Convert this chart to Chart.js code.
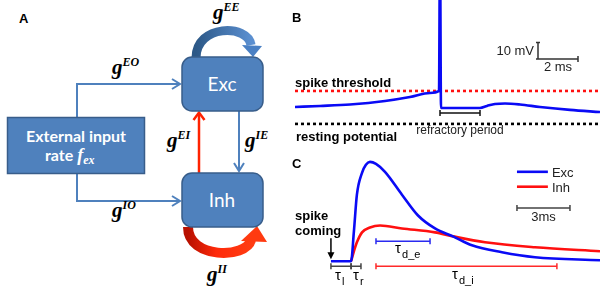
<!DOCTYPE html>
<html>
<head>
<meta charset="utf-8">
<script src="https://cdn.jsdelivr.net/npm/chart.js@4"></script>
<style>
  body { margin: 0; width: 600px; height: 291px; background: #fff; position: relative; overflow: hidden; }
  #diagram { position: absolute; left: 0; top: 0; }
  #chartB { position: absolute; left: 285px; top: 0; }
  #chartC { position: absolute; left: 285px; top: 145px; }
  .box { fill: #4f81bd; stroke: #385d8a; stroke-width: 1.5; }
  .lbl { fill: #fff; font-family: Lato, "Open Sans", sans-serif; }
  .g { font-family: "Liberation Serif", serif; font-weight: bold; font-style: italic; font-size: 21px; fill: #000; }
  .sup { font-size: 12px; }
</style>
</head>
<body>

<!-- panel A: network diagram -->
<svg id="diagram" width="290" height="291" viewBox="0 0 290 291">
  <defs>
    <linearGradient id="gradEE" x1="0" x2="1" y1="0" y2="0">
      <stop offset="0" stop-color="#2c5887"/>
      <stop offset="1" stop-color="#5b8fd0"/>
    </linearGradient>
    <linearGradient id="gradII" x1="0" x2="1" y1="0" y2="0">
      <stop offset="0" stop-color="#b81000"/>
      <stop offset="0.45" stop-color="#ff2a0a"/>
      <stop offset="1" stop-color="#ff3c12"/>
    </linearGradient>
  </defs>
  <text x="19" y="23" font-family="Liberation Sans, Arial, sans-serif" font-weight="bold" font-size="13">A</text>

  <!-- external input to Exc / Inh -->
  <polyline points="77,117 77,84 180,84" fill="none" stroke="#4f81bd" stroke-width="2"/>
  <polyline points="172,79 180,84 172,89" fill="none" stroke="#4f81bd" stroke-width="2"/>
  <polyline points="77,173 77,201 180,201" fill="none" stroke="#4f81bd" stroke-width="2"/>
  <polyline points="172,196 180,201 172,206" fill="none" stroke="#4f81bd" stroke-width="2"/>

  <!-- Inh -> Exc, Exc -> Inh -->
  <line x1="199" y1="173" x2="199" y2="113" stroke="#ff2200" stroke-width="2.5"/>
  <polyline points="193.5,120 199,112.5 204.5,120" fill="none" stroke="#ff2200" stroke-width="2.5"/>
  <line x1="239" y1="111" x2="239" y2="171" stroke="#4f81bd" stroke-width="2"/>
  <polyline points="234,163 239,171 244,163" fill="none" stroke="#4f81bd" stroke-width="2"/>

  <!-- self loops -->
  <path d="M196,58 C196,24 248,24 251,45" fill="none" stroke="url(#gradEE)" stroke-width="9"/>
  <polygon points="242,45 262,46 253,57" fill="#4a80c4"/>
  <path d="M188,227 C188,259 246,259 251,240" fill="none" stroke="url(#gradII)" stroke-width="10"/>
  <polygon points="241,241 267,242 257,226" fill="#ff3a10"/>

  <rect class="box" x="7.5" y="117.5" width="137" height="56"/>
  <rect class="box" x="182" y="57" width="81" height="54" rx="10"/>
  <rect class="box" x="182" y="173" width="81" height="54" rx="10"/>

  <text class="lbl" x="76" y="142" text-anchor="middle" font-weight="bold" font-size="16">External input</text>
  <text class="lbl" x="45" y="161" font-weight="bold" font-size="16">rate <tspan font-family="Liberation Serif, serif" font-style="italic" font-size="18">f</tspan><tspan font-family="Liberation Serif, serif" font-style="italic" font-size="12" dy="3">ex</tspan></text>
  <text class="lbl" x="222" y="91" text-anchor="middle" font-size="19">Exc</text>
  <text class="lbl" x="222" y="207" text-anchor="middle" font-size="19">Inh</text>

  <text class="g" x="112" y="74">g<tspan class="sup" dy="-8">EO</tspan></text>
  <text class="g" x="112" y="217">g<tspan class="sup" dy="-8">IO</tspan></text>
  <text class="g" x="167" y="147">g<tspan class="sup" dy="-8">EI</tspan></text>
  <text class="g" x="245" y="147">g<tspan class="sup" dy="-8">IE</tspan></text>
  <text class="g" x="213" y="19">g<tspan class="sup" dy="-8">EE</tspan></text>
  <text class="g" x="207" y="281">g<tspan class="sup" dy="-8">II</tspan></text>
</svg>

<canvas id="chartB" width="315" height="145"></canvas>
<canvas id="chartC" width="315" height="146"></canvas>

<script>
// Panel B: membrane potential around a spike (time in ms, potential in mV)
const bTime = [0.5, 1.75, 3.25, 5, 6.25, 7.25, 7.7, 7.75, 7.8, 9.75, 10.1, 10.5, 11, 11.75, 12.75, 14.25, 15.75];
const bVolt = [-59.9, -59.3, -58.4, -56.3, -53.9, -51.4, -50.2, 40, -60.5, -60.5, -59.3, -58.1, -57.8, -58.4, -59.9, -61.7, -63];
const thresholdMV = -50.2;
const restMV = -70.2;
const refractory = [7.75, 9.75];   // ms

// Panel C: synaptic conductance after an incoming spike (time in ms, normalised)
const excTime = [2.6, 3.74, 3.9, 4.07, 4.36, 4.58, 4.81, 5.15, 5.66, 6.62, 7.53, 8.49, 9.51, 10.58, 12.28, 14.15, 17.83];
const excVal  = [0, 0, 0.30, 0.67, 0.89, 0.97, 1.0, 0.98, 0.90, 0.67, 0.46, 0.33, 0.25, 0.16, 0.09, 0.04, 0.01];
const inhTime = [3.74, 3.9, 4.07, 4.36, 4.81, 5.38, 6.62, 8.49, 9.51, 11.32, 14.15, 17.83];
const inhVal  = [0, 0.10, 0.19, 0.29, 0.34, 0.36, 0.33, 0.29, 0.25, 0.19, 0.14, 0.10];
const tauL  = [2.6, 3.74];
const tauR  = [3.74, 4.3];
const tauDE = [5.15, 8.21];
const tauDI = [5.15, 15.39];

const SANS = '"Liberation Sans", Arial, sans-serif';

function pts(xs, ys) {
  return xs.map((x, i) => ({x: x, y: ys[i]}));
}

// horizontal bar with end ticks, in pixels
function bar(ctx, x0, x1, y, color, ticks) {
  ctx.save();
  ctx.strokeStyle = color;
  ctx.lineWidth = 1.5;
  ctx.beginPath();
  ctx.moveTo(x0, y); ctx.lineTo(x1, y);
  if (ticks !== false) {
    ctx.moveTo(x0, y - 3); ctx.lineTo(x0, y + 3);
    ctx.moveTo(x1, y - 3); ctx.lineTo(x1, y + 3);
  }
  ctx.stroke();
  ctx.restore();
}

function text(ctx, str, x, y, font, align, color) {
  ctx.save();
  ctx.font = font;
  ctx.textAlign = align || 'left';
  ctx.fillStyle = color || '#000';
  ctx.fillText(str, x, y);
  ctx.restore();
}

// tau with a subscript
function tau(ctx, sub, x, y) {
  text(ctx, 'τ', x, y, '15px ' + SANS);
  text(ctx, sub, x + 7, y + 5, '11px ' + SANS);
}

function baseOptions(xMax, yMin, yMax) {
  return {
    responsive: false,
    animation: false,
    layout: {padding: 0},
    plugins: {legend: {display: false}, tooltip: {enabled: false}},
    elements: {point: {radius: 0}},
    scales: {
      x: {type: 'linear', min: 0, max: xMax, display: false},
      y: {min: yMin, max: yMax, display: false}
    }
  };
}

const annotB = {
  id: 'annotB',
  afterDatasetsDraw(chart) {
    const ctx = chart.ctx;
    const sx = chart.scales.x, sy = chart.scales.y;
    const X = v => sx.getPixelForValue(v), Y = v => sy.getPixelForValue(v);

    text(ctx, 'B', X(0.35), Y(-8.4), 'bold 13px ' + SANS);
    text(ctx, 'spike threshold', X(0.5), Y(-47.6), 'bold 13px ' + SANS);
    text(ctx, 'resting potential', X(0.55), Y(-80.4), 'bold 13px ' + SANS);
    text(ctx, 'refractory period', X(8.75), Y(-76.2), '12px ' + SANS, 'center', '#222');

    bar(ctx, X(refractory[0]), X(refractory[1]), Y(-63.6), '#111');

    // scale bar 10 mV / 2 ms
    const bx = X(12.65), by = Y(-30.8);
    ctx.save();
    ctx.strokeStyle = '#333';
    ctx.lineWidth = 1.5;
    ctx.beginPath();
    ctx.moveTo(bx, Y(-20.8)); ctx.lineTo(bx, by); ctx.lineTo(X(14.65), by);
    ctx.moveTo(bx - 2, Y(-20.8)); ctx.lineTo(bx + 2, Y(-20.8));
    ctx.moveTo(bx - 2, by); ctx.lineTo(bx + 2, by);
    ctx.moveTo(X(14.65), by - 3); ctx.lineTo(X(14.65), by + 3);
    ctx.stroke();
    ctx.restore();
    text(ctx, '10 mV', X(12.45), Y(-28.4), '13px ' + SANS, 'right', '#222');
    text(ctx, '2 ms', X(13.65), Y(-38.1), '13px ' + SANS, 'center', '#222');
  }
};

new Chart(document.getElementById('chartB'), {
  type: 'line',
  data: {
    datasets: [
      {data: pts(bTime, bVolt), borderColor: '#0a0af5', borderWidth: 2.6, cubicInterpolationMode: 'monotone', fill: false},
      {data: pts([0.5, 15.75], [thresholdMV, thresholdMV]), borderColor: '#ff1010', borderWidth: 2.6, borderDash: [3, 3], fill: false},
      {data: pts([0.5, 15.75], [restMV, restMV]), borderColor: '#000', borderWidth: 2.6, borderDash: [3, 3], fill: false}
    ]
  },
  options: baseOptions(15.75, -83, 5),
  plugins: [annotB]
});

const annotC = {
  id: 'annotC',
  afterDatasetsDraw(chart) {
    const ctx = chart.ctx;
    const sx = chart.scales.x, sy = chart.scales.y;
    const X = v => sx.getPixelForValue(v), Y = v => sy.getPixelForValue(v);

    text(ctx, 'C', X(0.4), Y(0.94), 'bold 13px ' + SANS);

    // legend
    ctx.save();
    ctx.lineWidth = 2.6;
    ctx.strokeStyle = '#0a0af5';
    ctx.beginPath(); ctx.moveTo(X(13.13), Y(0.9)); ctx.lineTo(X(14.88), Y(0.9)); ctx.stroke();
    ctx.strokeStyle = '#ff1010';
    ctx.beginPath(); ctx.moveTo(X(13.13), Y(0.75)); ctx.lineTo(X(14.88), Y(0.75)); ctx.stroke();
    ctx.restore();
    text(ctx, 'Exc', X(15.11), Y(0.9) + 5, '13px ' + SANS, 'left', '#222');
    text(ctx, 'Inh', X(15.11), Y(0.75) + 5, '13px ' + SANS, 'left', '#222');

    // 3 ms scale bar
    bar(ctx, X(13.13), X(16.13), Y(0.535), '#444');
    text(ctx, '3ms', X(14.63), Y(0.4), '13px ' + SANS, 'center', '#222');

    // incoming spike
    text(ctx, 'spike', X(0.57), Y(0.41), 'bold 13px ' + SANS);
    text(ctx, 'coming', X(0.57), Y(0.26), 'bold 13px ' + SANS);
    const ax = X(tauL[0]);
    ctx.save();
    ctx.strokeStyle = '#000'; ctx.fillStyle = '#000'; ctx.lineWidth = 1.5;
    ctx.beginPath(); ctx.moveTo(ax, Y(0.23)); ctx.lineTo(ax, Y(0.08)); ctx.stroke();
    ctx.beginPath(); ctx.moveTo(ax - 3.5, Y(0.09)); ctx.lineTo(ax + 3.5, Y(0.09)); ctx.lineTo(ax, Y(0.02)); ctx.closePath(); ctx.fill();
    ctx.restore();

    // time constants
    bar(ctx, X(tauL[0]), X(tauL[1]), Y(-0.05), '#444');
    bar(ctx, X(tauR[0]), X(tauR[1]), Y(-0.05), '#444');
    bar(ctx, X(tauDE[0]), X(tauDE[1]), Y(0.2), '#2a2af0');
    bar(ctx, X(tauDI[0]), X(tauDI[1]), Y(-0.05), '#ff2a2a');
    tau(ctx, 'l', X(2.83), Y(-0.19));
    tau(ctx, 'r', X(3.85), Y(-0.19));
    tau(ctx, 'd_e', X(6.23), Y(0.08));
    tau(ctx, 'd_i', X(9.45), Y(-0.18));
  }
};

new Chart(document.getElementById('chartC'), {
  type: 'line',
  data: {
    datasets: [
      {label: 'Exc', data: pts(excTime, excVal), borderColor: '#0a0af5', borderWidth: 2.6, cubicInterpolationMode: 'monotone', fill: false},
      {label: 'Inh', data: pts(inhTime, inhVal), borderColor: '#ff1010', borderWidth: 2.6, cubicInterpolationMode: 'monotone', fill: false}
    ]
  },
  options: baseOptions(17.83, -0.3, 1.17),
  plugins: [annotC]
});
</script>
</body>
</html>
